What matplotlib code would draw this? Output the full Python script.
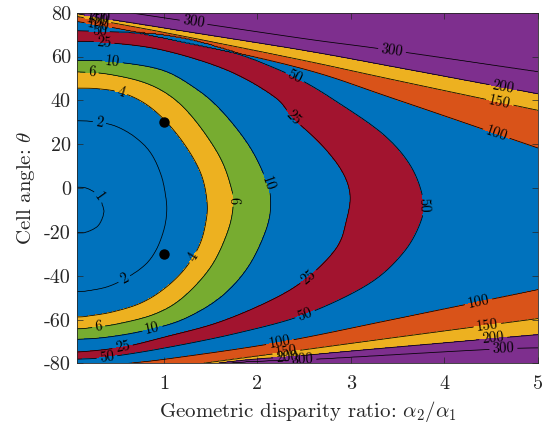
import numpy as np
import matplotlib
matplotlib.use("Agg")
import matplotlib.pyplot as plt
from matplotlib.colors import ListedColormap, BoundaryNorm

# ---------------- data ----------------
XLIM = (0.07, 5.0)
YLIM = (-80, 80)
xticks = [1, 2, 3, 4, 5]
yticks = [-80, -60, -40, -20, 0, 20, 40, 60, 80]
levels = [1, 2, 4, 6, 10, 25, 50, 100, 150, 200, 300]

# closed (C-shaped) contours, listed from the top arm to the bottom arm
c1_x = [0.07, 0.17, 0.26, 0.31, 0.34, 0.355, 0.33, 0.28, 0.17, 0.07]
c1_t = [0.3, -0.1, -2.1, -4.5, -7.8, -10.8, -14.6, -17.7, -20.0, -20.4]
c2_x = [0.07, 0.31, 0.50, 0.70, 0.86, 0.97, 1.02, 1.03, 1.00, 0.92, 0.80, 0.60, 0.40, 0.20, 0.07]
c2_t = [30.8, 30.0, 28.0, 23.0, 16.0, 6.0, -4.0, -11.0, -19.0, -28.0, -35.0, -41.0, -45.0, -46.8, -47.2]
c4_x = [0.07, 0.30, 0.55, 0.80, 1.03, 1.25, 1.40, 1.46, 1.45, 1.38, 1.22, 1.00, 0.75, 0.45, 0.20, 0.07]
c4_t = [45.6, 45.3, 43.5, 38.5, 30.0, 18.0, 6.0, -6.0, -15.0, -26.0, -37.0, -46.0, -52.5, -56.5, -58.3, -58.8]
c6_x = [0.07, 0.40, 0.80, 1.10, 1.35, 1.60, 1.72, 1.74, 1.68, 1.50, 1.20, 0.90, 0.50, 0.20, 0.07]
c6_t = [53.0, 52.0, 48.0, 41.0, 30.0, 14.0, 0.0, -8.0, -20.0, -36.0, -50.0, -57.5, -62.0, -63.8, -64.2]
c10_x = [0.07, 0.45, 0.97, 1.32, 1.60, 1.90, 2.08, 2.14, 2.10, 1.90, 1.60, 1.20, 0.80, 0.40, 0.07]
c10_t = [58.2, 57.7, 54.0, 46.0, 36.0, 20.0, 5.0, -5.0, -18.0, -36.0, -50.0, -60.0, -65.0, -68.0, -69.0]
c25_x = [0.07, 0.36, 0.97, 1.67, 2.18, 2.38, 2.68, 2.90, 2.99, 2.95, 2.85, 2.56, 2.20, 1.60, 1.00, 0.56, 0.07]
c25_t = [66.9, 66.5, 63.1, 53.9, 41.7, 32.0, 20.0, 8.0, -3.0, -15.0, -27.0, -40.0, -50.0, -61.0, -68.0, -72.5, -74.8]
c50_x = [0.07, 0.97, 1.67, 2.39, 2.90, 3.36, 3.64, 3.77, 3.74, 3.55, 3.18, 2.51, 1.80, 1.00, 0.39, 0.07]
c50_t = [71.8, 70.0, 63.1, 50.9, 38.0, 24.0, 10.0, -5.0, -16.0, -30.0, -44.0, -57.6, -66.0, -73.0, -77.1, -78.0]

# open contours: upper and lower branches, theta as a function of x
o100_top_x = [-0.5, 0.07, 1.0, 2.46, 3.50, 5.5]
o100_top_t = [79.0, 76.0, 68.5, 54.7, 40.2, 11.0]
o100_bot_x = [-0.5, 0.50, 1.07, 2.24, 3.50, 5.5]
o100_bot_t = [-86.0, -80.5, -77.7, -70.3, -59.5, -42.0]
o150_top_x = [-0.5, 0.07, 1.0, 2.46, 3.50, 5.5]
o150_top_t = [83.0, 78.3, 71.0, 58.5, 49.0, 31.0]
o150_bot_x = [-0.5, 1.00, 2.46, 3.50, 5.5]
o150_bot_t = [-92.0, -82.5, -74.0, -68.0, -56.7]
o200_top_x = [-0.5, 0.07, 1.0, 2.46, 3.50, 5.5]
o200_top_t = [85.0, 79.5, 73.0, 63.1, 55.0, 39.0]
o200_bot_x = [-0.5, 1.50, 2.46, 3.50, 5.5]
o200_bot_t = [-95.0, -80.5, -76.5, -72.5, -65.0]
o300_top_x = [-0.5, 0.07, 0.71, 2.46, 3.44, 5.5]
o300_top_t = [87.0, 83.5, 79.5, 68.4, 62.8, 50.0]
o300_bot_x = [-0.5, 1.50, 2.67, 4.63, 5.5]
o300_bot_t = [-92.0, -80.5, -77.9, -73.3, -73.0]

markers_x = [1.0, 1.0]
markers_t = [30.0, -30.0]

label_pos = [(0.30, -4.0),
             (0.31, 29.9), (0.59, -42.4),
             (0.55, 45.0), (1.31, -31.4),
             (0.23, 53.5), (1.73, -5.5), (0.30, -62.6),
             (0.45, 57.7), (2.10, 2.1), (0.86, -61.6),
             (0.36, 66.7), (2.34, 30.3), (2.56, -41.3), (0.56, -73.3),
             (0.31, 72.0), (2.35, 46.3), (3.76, -7.8), (2.51, -57.6), (0.39, -77.1),
             (0.30, 75.0), (4.56, 25.7), (2.24, -70.3), (4.36, -51.2),
             (0.30, 77.5), (4.59, 38.7), (2.30, -72.5), (4.45, -60.3),
             (0.30, 79.0), (4.63, 46.3), (2.31, -74.8), (4.52, -67.2),
             (1.32, 76.8), (3.44, 63.1), (2.48, -77.9), (4.63, -73.3)]

# ---------------- colours ----------------
BLUE = (0.0, 0.447, 0.741)
ORANGE = (0.850, 0.325, 0.098)
YELLOW = (0.929, 0.694, 0.125)
PURPLE = (0.494, 0.184, 0.556)
GREEN = (0.466, 0.674, 0.188)
RED = (0.635, 0.078, 0.184)
fill_levels = [0, 4, 6, 10, 25, 50, 100, 150, 200, 1e4]
fill_colors = [BLUE, YELLOW, GREEN, BLUE, RED, BLUE, ORANGE, YELLOW, PURPLE]

# ---------------- build a field whose iso-lines are the read curves ----------------
SX, ST = 93.6, 2.1875  # pixels per unit, for isotropic distances


def smooth(xs, ys, n=8):
    p = np.column_stack([xs, ys]).astype(float)
    p = np.vstack([2 * p[0] - p[1], p, 2 * p[-1] - p[-2]])
    out = []
    for i in range(1, len(p) - 2):
        p0, p1, p2, p3 = p[i - 1], p[i], p[i + 1], p[i + 2]
        for s in np.linspace(0, 1, n, endpoint=False):
            out.append(0.5 * ((2 * p1) + (-p0 + p2) * s + (2 * p0 - 5 * p1 + 4 * p2 - p3) * s ** 2
                              + (-p0 + 3 * p1 - 3 * p2 + p3) * s ** 3))
    out.append(p[-2])
    out = np.array(out)
    return out[:, 0], out[:, 1]


def poly_dist(PX, PY, xs, ys):
    ax_, ay_ = xs[:-1] * SX, ys[:-1] * ST
    bx_, by_ = xs[1:] * SX, ys[1:] * ST
    d = np.full(PX.shape, np.inf)
    for a1, a2, b1, b2 in zip(ax_, ay_, bx_, by_):
        vx, vy = b1 - a1, b2 - a2
        l2 = vx * vx + vy * vy + 1e-12
        t = np.clip(((PX * SX - a1) * vx + (PY * ST - a2) * vy) / l2, 0, 1)
        d = np.minimum(d, np.hypot(PX * SX - (a1 + t * vx), PY * ST - (a2 + t * vy)))
    return d


xg = np.linspace(XLIM[0], XLIM[1], 420)
tg = np.linspace(YLIM[0], YLIM[1], 380)
X, T = np.meshgrid(xg, tg)

closed = [(c1_x, c1_t), (c2_x, c2_t), (c4_x, c4_t), (c6_x, c6_t),
          (c10_x, c10_t), (c25_x, c25_t), (c50_x, c50_t)]
opened = [((o100_top_x, o100_top_t), (o100_bot_x, o100_bot_t)),
          ((o150_top_x, o150_top_t), (o150_bot_x, o150_bot_t)),
          ((o200_top_x, o200_top_t), (o200_bot_x, o200_bot_t)),
          ((o300_top_x, o300_top_t), (o300_bot_x, o300_bot_t))]

outside = []
dists = []
for cx, ct in closed:
    cx = [cx[0] - 0.4] + list(cx) + [cx[-1] - 0.4]
    ct = [ct[0] + 1e-3] + list(ct) + [ct[-1] - 1e-3]
    sx, st = smooth(cx, ct)
    order = np.argsort(st)
    xb = np.interp(T, st[order], sx[order])
    inside = (T < st.max()) & (T > st.min()) & (X < xb)
    outside.append(~inside)
    dists.append(poly_dist(X, T, sx, st))
for (tx, tt), (bx, bt) in opened:
    sx1, st1 = smooth(tx, tt)
    sx2, st2 = smooth(bx, bt)
    top = np.interp(X, sx1, st1)
    bot = np.interp(X, sx2, st2)
    inside = (T < top) & (T > bot)
    outside.append(~inside)
    dists.append(np.minimum(poly_dist(X, T, sx1, st1), poly_dist(X, T, sx2, st2)))

k = np.sum(outside, axis=0)
logL = np.log(levels)
F = np.zeros_like(X)
for i in range(len(levels) + 1):
    m = k == i
    if i == 0:
        d0 = dists[0][m]
        F[m] = logL[0] - np.log(2) * d0 / (d0 + 20)
    elif i == len(levels):
        d0 = dists[-1][m]
        F[m] = logL[-1] + np.log(2) * d0 / (d0 + 20)
    else:
        da, db = dists[i - 1][m], dists[i][m]
        F[m] = logL[i - 1] + (logL[i] - logL[i - 1]) * da / (da + db + 1e-9)
F = np.exp(F)

# ---------------- plot ----------------
plt.rcParams["font.family"] = "serif"
plt.rcParams["font.serif"] = ["cmr10"]
plt.rcParams["mathtext.fontset"] = "cm"
plt.rcParams["axes.unicode_minus"] = False
plt.rcParams["axes.formatter.use_mathtext"] = False

fig = plt.figure(figsize=(5.47, 4.30), dpi=100)
ax = fig.add_axes([0.1408, 0.1547, 0.8427, 0.8158])

cmap = ListedColormap(fill_colors)
norm = BoundaryNorm(fill_levels, cmap.N)
ax.contourf(X, T, F, levels=fill_levels, cmap=cmap, norm=norm)
cs = ax.contour(X, T, F, levels=levels, colors="k", linewidths=0.55)
ax.clabel(cs, manual=label_pos, inline=True, fontsize=10.5, fmt="%d", inline_spacing=3)

ax.plot(markers_x, markers_t, "o", color="k", markersize=6.5)

ax.set_xlim(*XLIM)
ax.set_ylim(*YLIM)
ax.set_xticks(xticks)
ax.set_yticks(yticks)
ax.set_yticklabels([str(v) for v in yticks])
dark = (0.15, 0.15, 0.15)
ax.tick_params(direction="in", length=4, width=0.5, top=True, right=True,
               labelsize=14.5, colors=dark)
ax.tick_params(axis="x", pad=8)
ax.tick_params(axis="y", pad=4.5)
for s in ax.spines.values():
    s.set_color(dark)
    s.set_linewidth(0.6)
ax.set_xlabel(r"Geometric disparity ratio: $\alpha_2/\alpha_1$", fontsize=15, color=dark, labelpad=5)
ax.set_ylabel(r"Cell angle: $\theta$", fontsize=15, color=dark, labelpad=5)

fig.savefig("out.png", dpi=100)
